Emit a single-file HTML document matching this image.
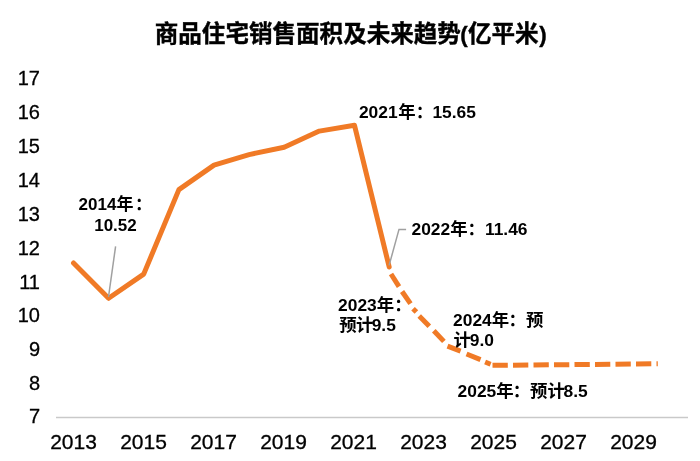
<!DOCTYPE html>
<html lang="zh-CN">
<head>
<meta charset="utf-8">
<title>商品住宅销售面积及未来趋势(亿平米)</title>
<style>
  html, body { margin: 0; padding: 0; background: #fff; }
  body { width: 700px; height: 461px; overflow: hidden; }
  svg { display: block; }
  text { font-family: "Liberation Sans", "Noto Sans CJK SC", sans-serif; fill: #000; }
  .title { font-size: 23.55px; font-weight: bold; stroke: #000; stroke-width: 0.4px; }
  .ax { font-size: 21px; stroke: #000; stroke-width: 0.3px; }
  .lbl { font-size: 17.4px; font-weight: bold; }
</style>
</head>
<body>
<svg width="700" height="461" viewBox="0 0 700 461">
  <rect x="0" y="0" width="700" height="461" fill="#ffffff"/>

  <!-- title -->
  <text class="title" x="154.76" y="42.2">商品住宅销售面积及未来趋势<tspan font-size="22.3" dx="-0.7">(</tspan><tspan dx="0.4">亿平米</tspan><tspan font-size="22.3" dx="0.6">)</tspan></text>

  <!-- y axis labels -->
  <g class="ax" text-anchor="end" style="font-size:20px">
    <text x="40" y="85">17</text>
    <text x="40" y="119">16</text>
    <text x="40" y="153">15</text>
    <text x="40" y="187">14</text>
    <text x="40" y="221">13</text>
    <text x="40" y="255">12</text>
    <text x="40" y="289">11</text>
    <text x="40" y="322">10</text>
    <text x="40" y="356">9</text>
    <text x="40" y="390">8</text>
    <text x="40" y="423">7</text>
  </g>

  <!-- x axis -->
  <line x1="56" y1="417.5" x2="688" y2="417.5" stroke="#c9c9c9" stroke-width="1.4"/>
  <g class="ax" text-anchor="middle">
    <text x="73.5" y="448.7">2013</text>
    <text x="143.5" y="448.7">2015</text>
    <text x="213.5" y="448.7">2017</text>
    <text x="283.5" y="448.7">2019</text>
    <text x="353.5" y="448.7">2021</text>
    <text x="423.5" y="448.7">2023</text>
    <text x="493.5" y="448.7">2025</text>
    <text x="563.5" y="448.7">2027</text>
    <text x="633.5" y="448.7">2029</text>
  </g>

  <!-- solid series -->
  <polyline fill="none" stroke="#f07a26" stroke-width="5" stroke-linejoin="round" stroke-linecap="round"
    points="73.5,263.0 108.6,298.3 143.7,274.1 178.9,189.6 214.0,165.1 249.1,154.6 284.2,147.2 319.3,131.1 354.5,125.3 389.2,267.0"/>

  <!-- forecast (dashed) -->
  <g fill="none" stroke="#f07a26" stroke-width="5">
    <line x1="391.0" y1="274.0" x2="399.0" y2="286.7"/>
    <line x1="402.05" y1="291.5" x2="410.5" y2="303.7"/>
    <line x1="413.06" y1="308.7" x2="416.4" y2="312.1"/>
    <line x1="419.2" y1="316.0" x2="429.3" y2="326.3"/>
    <line x1="433.8" y1="330.7" x2="443.9" y2="341.4"/>
    <line x1="447.5" y1="346.2" x2="460.6" y2="351.2"/>
    <line x1="466.55" y1="354.0" x2="480.5" y2="359.6"/>
    <line x1="485.1" y1="362.0" x2="490.6" y2="364.2"/>
    <line x1="492.5" y1="365.35" x2="657.8" y2="363.8" stroke-dasharray="15.3 5.2"/>
  </g>

  <!-- leader lines -->
  <g fill="none" stroke="#a0a0a0" stroke-width="1.5">
    <line x1="115.6" y1="246.3" x2="108.5" y2="297"/>
    <polyline points="406.1,229.4 399,229.4 389.1,265.4"/>
  </g>

  <!-- data labels -->
  <g class="lbl">
    <text x="78.6" y="209.7" style="font-size:17px">2014年<tspan dx="1.5">：</tspan></text>
    <text x="94.2" y="231.1" style="font-size:17px">10.52</text>
    <text x="358.9" y="118">2021<tspan dx="0.7">年：</tspan><tspan dx="-0.7">15.65</tspan></text>
    <text x="411.5" y="235.3">2022年：11.46</text>
    <text x="338.1" y="311.3">2023年：</text>
    <text x="339.2" y="331.3">预<tspan dx="-0.6">计</tspan><tspan dx="-1.7">9.5</tspan></text>
    <text x="453.1" y="325.9">2024年<tspan dx="-0.7">：</tspan><tspan dx="0">预</tspan></text>
    <text x="453.6" y="345.9">计<tspan dx="-1.2">9.0</tspan></text>
    <text x="457.6" y="396.9">2025年<tspan dx="-1">：</tspan>预计<tspan dx="-1.3">8.5</tspan></text>
  </g>
</svg>
</body>
</html>
